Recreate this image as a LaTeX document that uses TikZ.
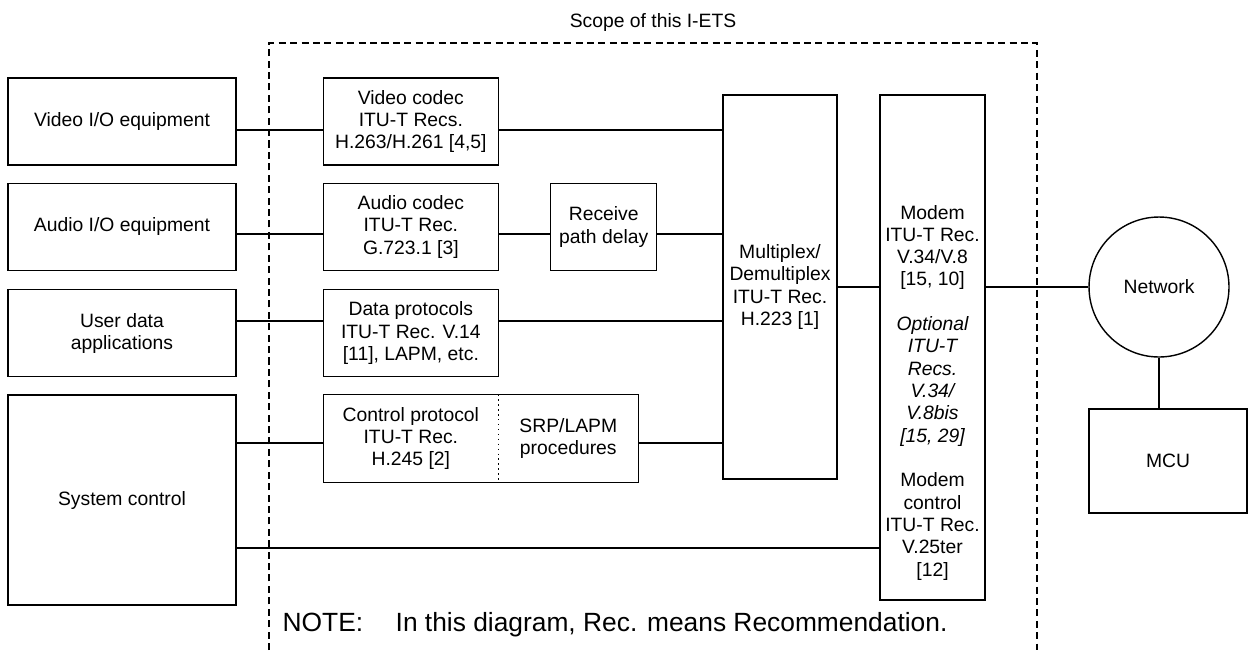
\documentclass[tikz,border=0pt]{standalone}
\usepackage{fontspec}
\setmainfont{Liberation Sans}
\usetikzlibrary{positioning}

\begin{document}
\begin{tikzpicture}[x=0.02cm, y=-0.02cm, line width=0.8pt,
    every node/.style={font=\fontsize{11}{12.7}\selectfont, align=center, inner sep=0pt},
    box/.style={draw, minimum width=#1, minimum height=1.74cm},
    box/.default=3.5cm,
    half/.style={outer sep=0pt, minimum height=1.76cm},
    scopeline/.style={line width=0.7pt, dash pattern=on 4pt off 2.5pt}]
  \useasboundingbox (0,0) rectangle (1253,650);

  % scope of the I-ETS
  \coordinate (fbl) at (269,650);
  \coordinate (ftl) at (269,43);
  \coordinate (ftr) at (1037,43);
  \coordinate (fbr) at (1037,650);
  \draw[scopeline] (fbl) -- (ftl) -- (ftr) -- (fbr);
  \node (scopelbl) at (653,22) {Scope of this I-ETS};

  % terminal side
  \node[box=4.56cm] (vio) at (122,121.5) {Video I/O equipment};
  \node[box=4.56cm, below=0.34cm of vio] (aio) {Audio I/O equipment};
  \node[box=4.56cm, below=0.36cm of aio] (udata) {User data\\applications};
  \node[box=4.56cm, minimum height=4.2cm, below=0.34cm of udata] (sysctl) {System control};

  % codecs and protocols
  \node[box, right=1.72cm of vio] (vcodec) {Video codec\\ITU-T Recs.\\H.263/H.261 [4,5]};
  \node[box, right=1.72cm of aio] (acodec) {Audio codec\\ITU-T Rec.\\G.723.1 [3]};
  \node[box, right=1.72cm of udata] (dproto) {Data protocols\\ITU-T Rec. V.14\\{}[11], LAPM, etc.};
  \node[half, minimum width=3.5cm, below=0.34cm of dproto] (ctrl) {Control protocol\\ITU-T Rec.\\H.245 [2]};
  \node[half, minimum width=2.8cm, right=0cm of ctrl] (srp) {SRP/LAPM\\procedures};
  \draw (ctrl.north west) rectangle (srp.south east);
  \draw[dotted] (ctrl.north east) -- (ctrl.south east);
  \node[box=2.12cm, right=1.02cm of acodec] (delay) {Receive\\path delay};

  % multiplex and modem
  \node[box=2.28cm, minimum height=7.68cm] (mux) at (780,287) {Multiplex/\\Demultiplex\\ITU-T Rec.\\H.223 [1]};
  \node[box=2.1cm, minimum height=10.1cm] (modem) at (932.5,347.5) {};
  \node (modemtxt) at (932.5,392.5) {Modem\\ITU-T Rec.\\V.34/V.8\\{}[15, 10]\\[12.7pt]
    \itshape Optional\\\itshape ITU-T\\\itshape Recs.\\\itshape V.34/\\\itshape V.8bis\\\itshape{}[15, 29]\\[12.7pt]
    \upshape Modem\\control\\ITU-T Rec.\\V.25ter\\{}[12]};

  % network side
  \node[draw, circle, minimum size=2.8cm] (net) at (1159,287) {Network};
  \node[box=3.16cm, minimum height=2.08cm] (mcu) at (1168,461) {MCU};

  % connections
  \coordinate (vline) at (0,130);
  \coordinate (aline) at (0,234);
  \coordinate (dline) at (0,321);
  \coordinate (cline) at (0,443);
  \coordinate (mline) at (0,548);
  \draw (vio.east |- vline) -- (vcodec.west |- vline);
  \draw (vcodec.east |- vline) -- (mux.west |- vline);
  \draw (aio.east |- aline) -- (acodec.west |- aline);
  \draw (acodec.east |- aline) -- (delay.west |- aline);
  \draw (delay.east |- aline) -- (mux.west |- aline);
  \draw (udata.east |- dline) -- (dproto.west |- dline);
  \draw (dproto.east |- dline) -- (mux.west |- dline);
  \draw (sysctl.east |- cline) -- (ctrl.west |- cline);
  \draw (srp.east |- cline) -- (mux.west |- cline);
  \draw (sysctl.east |- mline) -- (modem.west |- mline);
  \draw (mux.east) -- (modem.west |- mux.east);
  \draw (modem.east |- net.west) -- (net.west);
  \draw (net.south) -- (mcu.north -| net.south);

  % note
  \node[anchor=west, font=\fontsize{15}{18}\selectfont] (note) at (282,625) {\makebox[2.26cm][l]{NOTE:}In this diagram, Rec. means Recommendation.};
\end{tikzpicture}
\end{document}
